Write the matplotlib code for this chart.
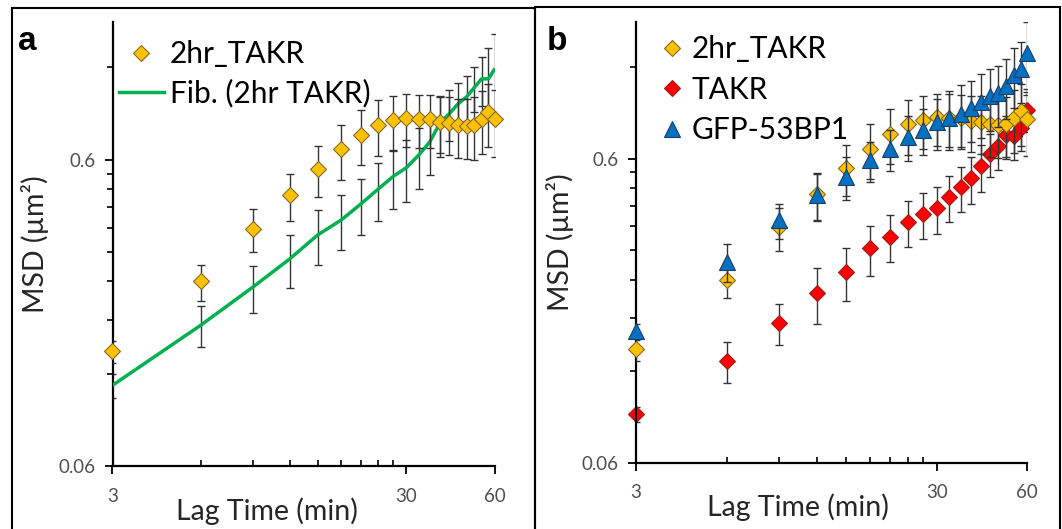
import matplotlib

matplotlib.use("Agg")
import matplotlib.pyplot as plt
from matplotlib.lines import Line2D
from matplotlib.patches import Rectangle
from matplotlib.ticker import FixedLocator, FixedFormatter, NullFormatter

W, H = 1062, 529

# lag times (min) shared by every series
LAG = [3, 6, 9, 12, 15, 18, 21, 24, 27, 30, 33, 36, 39, 42, 45, 48, 51, 54, 57, 60]

# 2hr_TAKR (both panels)
TAKR2 = [0.142, 0.240, 0.356, 0.458, 0.559, 0.647, 0.724, 0.777, 0.805, 0.820,
         0.816, 0.814, 0.796, 0.790, 0.779, 0.773, 0.779, 0.815, 0.858, 0.812]
TAKR2_ERR = [0.012, 0.032, 0.057, 0.081, 0.107, 0.133, 0.148, 0.160, 0.160, 0.160,
             0.160, 0.160, 0.165, 0.170, 0.170, 0.170, 0.180, 0.190, 0.200, 0.200]

# Fib. (2hr TAKR) line, panel a
FIB = [0.110, 0.173, 0.230, 0.284, 0.341, 0.381, 0.430, 0.480, 0.528, 0.565,
       0.620, 0.685, 0.790, 0.848, 0.913, 0.960, 1.030, 1.100, 1.100, 1.190]
FIB_ERR = [0.010, 0.026, 0.040, 0.056, 0.070, 0.078, 0.090, 0.103, 0.113, 0.128,
           0.140, 0.150, 0.180, 0.160, 0.150, 0.160, 0.170, 0.200, 0.290, 0.350]

# TAKR, panel b
TAKR = [0.0865, 0.130, 0.173, 0.216, 0.254, 0.304, 0.332, 0.371, 0.395, 0.411,
        0.447, 0.482, 0.516, 0.567, 0.620, 0.660, 0.716, 0.712, 0.753, 0.864]
TAKR_ERR = [0.005, 0.020, 0.027, 0.045, 0.050, 0.057, 0.058, 0.065, 0.068, 0.072,
            0.077, 0.082, 0.090, 0.100, 0.100, 0.110, 0.110, 0.120, 0.120, 0.130]

# GFP-53BP1, panel b
GFP = [0.162, 0.275, 0.376, 0.455, 0.523, 0.592, 0.647, 0.707, 0.744, 0.792,
       0.818, 0.843, 0.881, 0.920, 0.960, 0.984, 1.040, 1.130, 1.180, 1.330]
GFP_ERR = [0.010, 0.040, 0.050, 0.080, 0.085, 0.090, 0.100, 0.120, 0.130, 0.150,
           0.180, 0.200, 0.200, 0.220, 0.220, 0.220, 0.230, 0.250, 0.270, 0.360]

FONT = ["Lato", "DejaVu Sans"]
GOLD, GOLD_EDGE = "#FFC000", "#7F6A2A"
RED, RED_EDGE = "#FF0000", "#9A1F1F"
BLUE, BLUE_EDGE = "#0070C0", "#1F3D66"
GREEN = "#00B050"
BAR = "#333333"
TICK_GRAY = "#505050"
DIAMOND_MS = 7.8
TRIANGLE_MS = 11.3


def px_axes(fig, left, right, top, bottom):
    return fig.add_axes([left / W, 1 - bottom / H, (right - left) / W, (bottom - top) / H])


def style_axes(ax):
    ax.set_xscale("log")
    ax.set_yscale("log")
    ax.set_xlim(3, 60)
    ax.set_ylim(0.06, 1.69)
    for side in ("top", "right"):
        ax.spines[side].set_visible(False)
    for side in ("left", "bottom"):
        ax.spines[side].set_linewidth(1.6)
        ax.spines[side].set_color("black")
    ax.xaxis.set_major_locator(FixedLocator([3, 30, 60]))
    ax.xaxis.set_major_formatter(FixedFormatter(["3", "30", "60"]))
    ax.xaxis.set_minor_locator(FixedLocator([6, 9, 12, 15, 18, 21, 24, 27]))
    ax.xaxis.set_minor_formatter(NullFormatter())
    ax.yaxis.set_major_locator(FixedLocator([0.06, 0.6]))
    ax.yaxis.set_major_formatter(FixedFormatter(["0.06", "0.6"]))
    ax.yaxis.set_minor_locator(FixedLocator([0.12, 0.18, 0.24, 0.30, 0.36, 0.42, 0.48, 0.54, 1.2]))
    ax.yaxis.set_minor_formatter(NullFormatter())
    ax.tick_params(which="major", direction="out", length=5.5, width=1.3, color="black",
                   labelsize=13.5, labelcolor=TICK_GRAY)
    ax.tick_params(axis="x", which="major", pad=10)
    ax.tick_params(axis="y", which="major", pad=7)
    ax.tick_params(axis="y", which="minor", direction="out", length=4, width=1.2)
    ax.tick_params(axis="x", which="minor", direction="in", length=4, width=1.2)
    for lab in ax.get_xticklabels() + ax.get_yticklabels():
        lab.set_family(FONT)
    ax.set_xlabel("Lag Time (min)", fontsize=20.5, color="#262626", family=FONT)
    ax.set_ylabel("MSD (µm²)", fontsize=20.5, color="#262626", family=FONT)
    ax.patch.set_visible(False)


def draw_points(ax, values, errors, marker, face, edge, ms, z):
    ax.errorbar(LAG, values, yerr=errors, fmt="none", ecolor=BAR, elinewidth=1.0,
                capsize=3, capthick=1.0, zorder=z)
    ax.plot(LAG, values, ls="none", marker=marker, ms=ms, mfc=face, mec=edge,
            mew=0.8, zorder=z + 0.5, clip_on=False)


def main():
    fig = plt.figure(figsize=(W / 100, H / 100), dpi=100)

    # picture frames around both panels
    fig.add_artist(Rectangle((12 / W, -0.05), (535 - 12) / W, 1.05 - 8 / H,
                             transform=fig.transFigure, fill=False, lw=1.5, ec="black"))
    fig.add_artist(Rectangle((535 / W, -0.05), (1060 - 535) / W, 1.05 - 6.5 / H,
                             transform=fig.transFigure, fill=False, lw=1.5, ec="black"))

    # ---- panel a
    ax_a = px_axes(fig, 112.5, 495, 21.7, 466)
    style_axes(ax_a)
    ax_a.errorbar(LAG, FIB, yerr=FIB_ERR, fmt="none", ecolor=BAR, elinewidth=1.0,
                  capsize=3, capthick=1.0, zorder=2)
    ax_a.plot(LAG, FIB, color=GREEN, lw=2.5, zorder=3, solid_capstyle="butt")
    draw_points(ax_a, TAKR2, TAKR2_ERR, "D", GOLD, GOLD_EDGE, DIAMOND_MS, 4)
    ax_a.xaxis.set_label_coords(0.404, -0.07)
    ax_a.yaxis.set_label_coords(-0.165, 0.5)
    handles_a = [
        Line2D([], [], ls="none", marker="D", ms=DIAMOND_MS, mfc=GOLD, mec=GOLD_EDGE, mew=0.8),
        Line2D([], [], color=GREEN, lw=2.5),
    ]
    fig.legend(handles_a, ["2hr_TAKR", "Fib. (2hr TAKR)"], loc="upper left",
               bbox_to_anchor=(119 / W, 1 - 40 / H), frameon=False, borderpad=0,
               borderaxespad=0, handlelength=1.5, handletextpad=0.2,
               labelspacing=0.36, prop={"family": FONT, "size": 21.5})
    fig.text(18 / W, 1 - 50 / H, "a", fontsize=24, fontweight="bold",
             family=["Liberation Sans", "DejaVu Sans"], va="baseline")

    # ---- panel b
    ax_b = px_axes(fig, 636, 1027.3, 21.7, 462.7)
    style_axes(ax_b)
    draw_points(ax_b, TAKR, TAKR_ERR, "D", RED, RED_EDGE, DIAMOND_MS, 2)
    draw_points(ax_b, TAKR2, TAKR2_ERR, "D", GOLD, GOLD_EDGE, DIAMOND_MS, 4)
    draw_points(ax_b, GFP, GFP_ERR, "^", BLUE, BLUE_EDGE, TRIANGLE_MS, 6)
    ax_b.xaxis.set_label_coords(0.414, -0.07)
    ax_b.yaxis.set_label_coords(-0.158, 0.5)
    handles_b = [
        Line2D([], [], ls="none", marker="D", ms=DIAMOND_MS, mfc=GOLD, mec=GOLD_EDGE, mew=0.8),
        Line2D([], [], ls="none", marker="D", ms=DIAMOND_MS, mfc=RED, mec=RED_EDGE, mew=0.8),
        Line2D([], [], ls="none", marker="^", ms=TRIANGLE_MS, mfc=BLUE, mec=BLUE_EDGE, mew=0.8),
    ]
    fig.legend(handles_b, ["2hr_TAKR", "TAKR", "GFP-53BP1"], loc="upper left",
               bbox_to_anchor=(660 / W, 1 - 35 / H), frameon=False, borderpad=0,
               borderaxespad=0, handlelength=0.8, handletextpad=0.25,
               labelspacing=0.42, prop={"family": FONT, "size": 21.5})
    fig.text(547 / W, 1 - 50 / H, "b", fontsize=24, fontweight="bold",
             family=["Liberation Sans", "DejaVu Sans"], va="baseline")

    fig.savefig("out.png", dpi=100)


if __name__ == "__main__":
    main()
